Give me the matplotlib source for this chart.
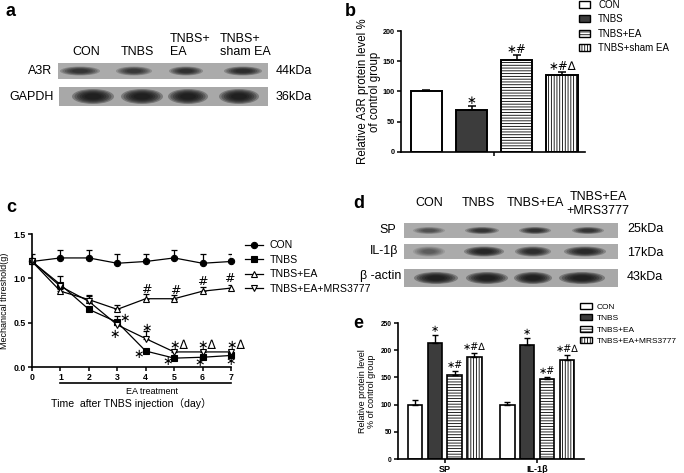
import matplotlib
matplotlib.use("Agg")
import matplotlib.pyplot as plt
from matplotlib.patches import Rectangle, Ellipse, Patch

plt.rcParams['font.family'] = ['Liberation Sans', 'Noto Sans CJK SC', 'DejaVu Sans']
plt.rcParams['hatch.linewidth'] = 0.6

W, H = 684, 473

# ---- panel a / b data ----
a_lanes = ["CON", "TNBS", "TNBS+\nEA", "TNBS+\nsham EA"]
b_groups = ["CON", "TNBS", "TNBS+EA", "TNBS+sham EA"]
b_mean = [100, 70, 152, 128]
b_err = [2, 6, 8, 4]
b_marks = ["", "*", "*#", "*#^"]
a3r_dark = [0.7, 0.65, 0.75, 0.8]
gapdh_dark = [1.0, 1.0, 1.0, 1.0]

# ---- panel c data ----
days = [0, 1, 2, 3, 4, 5, 6, 7]
con_mean = [1.19, 1.23, 1.23, 1.17, 1.19, 1.23, 1.17, 1.19]
con_err = [0.09, 0.09, 0.09, 0.10, 0.09, 0.09, 0.10, 0.09]
tnbs_mean = [1.19, 0.93, 0.65, 0.505, 0.18, 0.10, 0.11, 0.13]
tnbs_err = [0.03, 0.10, 0.03, 0.07, 0.02, 0.02, 0.02, 0.02]
ea_mean = [1.19, 0.855, 0.76, 0.65, 0.77, 0.77, 0.855, 0.89]
ea_err = [0.03, 0.03, 0.04, 0.045, 0.05, 0.04, 0.045, 0.03]
mrs_mean = [1.19, 0.91, 0.74, 0.475, 0.32, 0.17, 0.17, 0.17]
mrs_err = [0.03, 0.03, 0.07, 0.03, 0.09, 0.02, 0.02, 0.02]
c_marks = [("*", 3.27, 0.55), ("*", 2.9, 0.37), ("*", 4.03, 0.43), ("*", 3.76, 0.14),
           ("*^", 4.97, 0.24), ("*", 4.77, 0.06), ("*^", 5.97, 0.24), ("*", 5.9, 0.05),
           ("*^", 6.97, 0.24), ("*", 7.0, 0.06),
           ("#", 4.03, 0.87), ("#", 5.05, 0.86), ("#", 6.0, 0.96), ("#", 6.93, 1.0)]

# ---- panel d / e data ----
d_lanes = ["CON", "TNBS", "TNBS+EA"]
d_last = "TNBS+EA\n+MRS3777"
e_groups = ["CON", "TNBS", "TNBS+EA", "TNBS+EA+MRS3777"]
e_targets = ["SP", "IL-1\u03b2"]
sp_mean = [100, 214, 154, 188]
sp_err = [8, 14, 7, 6]
il_mean = [100, 210, 147, 182]
il_err = [5, 12, 4, 10]
e_marks = ["", "*", "*#", "*#^"]
sp_dark = [0.45, 0.7, 0.75, 0.7]
il_dark = [0.35, 0.9, 0.8, 0.85]
actin_dark = [1.0, 1.0, 1.0, 1.0]

fill = ["white", "#3c3c3c", "white", "white"]
hatch = [None, None, "------", "||||||"]

fig = plt.figure(figsize=(W / 100, H / 100), dpi=100)


def box(x0, y0, x1, y1):
    return [x0 / W, 1 - y1 / H, (x1 - x0) / W, (y1 - y0) / H]


bg = fig.add_axes([0, 0, 1, 1])
bg.set_xlim(0, W)
bg.set_ylim(H, 0)
bg.axis("off")


def blot(x0, x1, y0, y1, centers, widths, height, dark, color="#ababab"):
    bg.add_patch(Rectangle((x0, y0), x1 - x0, y1 - y0, color=color, lw=0))
    cy = (y0 + y1) / 2
    for cx, w, d in zip(centers, widths, dark):
        for k in range(6):
            s = 1 - k * 0.12
            bg.add_patch(Ellipse((cx, cy), w * s, height * s, color="#101010",
                                 alpha=0.3 * d, lw=0))


def marks(ax, x, y, s, size=8, ha="center", dx=0):
    # * -> centred asterisk operator, ^ -> open triangle
    txt = s.replace("*", "\u2217").replace("^", "\u2206")
    ax.annotate(txt, (x, y), xytext=(dx, 0), textcoords="offset points",
                ha=ha, va="center", fontsize=size, family=["DejaVu Sans"],
                annotation_clip=False)


def style(ax, fs):
    for s in ["top", "right"]:
        ax.spines[s].set_visible(False)
    for s in ["left", "bottom"]:
        ax.spines[s].set_linewidth(1.2)
    ax.tick_params(width=1.1, length=3, labelsize=fs, pad=1.5)
    for t in ax.get_yticklabels() + ax.get_xticklabels():
        t.set_fontweight("bold")


# ---------------- panel a ----------------
bg.text(6, 12, "a", fontsize=13, fontweight="bold", va="center")
for x, lab in zip([86, 137, 190, 245], a_lanes):
    bg.text(x, 58, lab, fontsize=9, ha="center", va="bottom", linespacing=1.15,
            multialignment="left")
blot(58, 268, 63, 79, [80, 134, 186, 243], [40, 36, 34, 38], 9, a3r_dark)
blot(59, 268, 87, 106, [93, 142, 188, 239], [42, 42, 40, 40], 15, gapdh_dark, "#a8a8a8")
bg.text(52, 71, "A3R", fontsize=9, ha="right", va="center")
bg.text(54, 97, "GAPDH", fontsize=9, ha="right", va="center")
bg.text(276, 71, "44kDa", fontsize=9, va="center")
bg.text(276, 97, "36kDa", fontsize=9, va="center")

# ---------------- panel b ----------------
bg.text(345, 11, "b", fontsize=13, fontweight="bold", va="center")
axb = fig.add_axes(box(401, 31, 585, 152))
xb = [0, 1, 2, 3]
for i in range(4):
    axb.bar(xb[i], b_mean[i], 0.69, color=fill[i], edgecolor="black",
            linewidth=1.4, hatch=hatch[i])
    axb.errorbar(xb[i], b_mean[i], yerr=[[0], [b_err[i]]], color="black",
                 lw=1.1, capsize=3, capthick=1.1)
    if b_marks[i]:
        marks(axb, xb[i], b_mean[i] + b_err[i] + 9, b_marks[i], size=8.5)
axb.set_xlim(-0.56, 3.51)
axb.set_ylim(0, 200)
axb.set_yticks([0, 50, 100, 150, 200])
axb.set_xticks([1.49])
axb.set_xticklabels([""])
style(axb, 5.2)
axb.set_ylabel("Relative A3R protein level %\nof control group", fontsize=8.3,
               labelpad=1, linespacing=1.05)
fig.legend(handles=[Patch(facecolor=fill[i], edgecolor="black", hatch=hatch[i],
                          label=b_groups[i]) for i in range(4)],
           loc="upper left", bbox_to_anchor=(572 / W, 1 + 7 / H), frameon=False,
           fontsize=7, handlelength=1.2, handleheight=0.7, handletextpad=0.8,
           labelspacing=0.45, borderpad=0.2)

# ---------------- panel c ----------------
bg.text(6, 207, "c", fontsize=13, fontweight="bold", va="center")
axc = fig.add_axes(box(32, 234, 231, 367))
series = [
    ("CON", con_mean, con_err, dict(marker="o", mfc="black", ms=4.5)),
    ("TNBS", tnbs_mean, tnbs_err, dict(marker="s", mfc="black", ms=5)),
    ("TNBS+EA", ea_mean, ea_err, dict(marker="^", mfc="white", ms=5)),
    ("TNBS+EA+MRS3777", mrs_mean, mrs_err, dict(marker="v", mfc="white", ms=5)),
]
handles = []
for lab, m, e, kw in series:
    axc.errorbar(days, m, yerr=[[0] * len(e), e], fmt="none", ecolor="black",
                 elinewidth=0.9, capsize=2.5, capthick=0.9)
    ln, = axc.plot(days, m, color="black", lw=0.9, mec="black", mew=0.8,
                   label=lab, clip_on=False, **kw)
    handles.append(ln)
for t, x, y in c_marks:
    if len(t) == 1:
        marks(axc, x, y, t, size=9)
    else:
        marks(axc, x, y, t, size=9, ha="left", dx=-3)
axc.set_xlim(0, 7)
axc.set_ylim(0, 1.5)
axc.set_xticks(days)
axc.set_yticks([0, 0.5, 1.0, 1.5])
axc.set_yticklabels(["0.0", "0.5", "1.0", "1.5"])
style(axc, 6.3)
axc.set_ylabel("Mechanical threshold(g)", fontsize=6.5, labelpad=3)
axc.plot([1, 7], [-0.12, -0.12], color="black", lw=1.2,
         transform=axc.get_xaxis_transform(), clip_on=False)
bg.text(152, 391, "EA treatment", fontsize=6.5, ha="center", va="center")
bg.text(131, 403, "Time  after TNBS injection\uff08day\uff09", fontsize=7.6,
        ha="center", va="center")
fig.legend(handles=handles, loc="upper left", bbox_to_anchor=(238 / W, 1 - 233 / H),
           frameon=False, fontsize=7.6, handlelength=1.7, handletextpad=0.6,
           labelspacing=0.42, borderpad=0.2)

# ---------------- panel d ----------------
bg.text(353, 203, "d", fontsize=13, fontweight="bold", va="center")
for x, lab in zip([429, 478, 535], d_lanes):
    bg.text(x, 209, lab, fontsize=9, ha="center", va="bottom")
bg.text(598, 217, d_last, fontsize=9, ha="center", va="bottom", linespacing=1.2)
blot(404, 618, 223, 238, [429, 482, 535, 588], [32, 34, 32, 32], 7, sp_dark)
blot(404, 618, 244, 259, [429, 484, 533, 585], [32, 40, 36, 42], 10, il_dark)
blot(404, 618, 269, 287, [436, 487, 533, 582], [44, 42, 38, 46], 12, actin_dark, "#a8a8a8")
bg.text(396, 230, "SP", fontsize=9, ha="right", va="center")
bg.text(398, 251, "IL-1\u03b2", fontsize=9, ha="right", va="center")
bg.text(401, 276, "\u03b2 -actin", fontsize=9, ha="right", va="center")
bg.text(627, 229, "25kDa", fontsize=9, va="center")
bg.text(627, 253, "17kDa", fontsize=9, va="center")
bg.text(627, 277, "43kDa", fontsize=9, va="center")

# ---------------- panel e ----------------
bg.text(353, 323, "e", fontsize=13, fontweight="bold", va="center")
axe = fig.add_axes(box(398, 323, 584, 459))
for g, (mean, err) in enumerate([(sp_mean, sp_err), (il_mean, il_err)]):
    for i in range(4):
        x = g * 4.67 + i
        axe.bar(x, mean[i], 0.72, color=fill[i], edgecolor="black", linewidth=1.2,
                hatch=hatch[i])
        axe.errorbar(x, mean[i], yerr=[[0], [err[i]]], color="black", lw=1.0,
                     capsize=2.5, capthick=1.0)
        if e_marks[i]:
            marks(axe, x, mean[i] + err[i] + 11, e_marks[i], size=7)
axe.set_xlim(-0.86, 8.54)
axe.set_ylim(0, 250)
axe.set_yticks([0, 50, 100, 150, 200, 250])
axe.set_xticks([1.5, 6.17])
axe.set_xticklabels(e_targets)
style(axe, 4.8)
for t in axe.get_xticklabels():
    t.set_fontsize(6.5)
axe.set_ylabel("Relative protein level\n% of control group", fontsize=6.5,
               labelpad=3, linespacing=1.1)
fig.legend(handles=[Patch(facecolor=fill[i], edgecolor="black", hatch=hatch[i],
                          label=e_groups[i]) for i in range(4)],
           loc="upper left", bbox_to_anchor=(574 / W, 1 - 297 / H), frameon=False,
           fontsize=6, handlelength=1.5, handleheight=0.75, handletextpad=0.5,
           labelspacing=0.42, borderpad=0.2)

fig.savefig("out.png", dpi=100)
